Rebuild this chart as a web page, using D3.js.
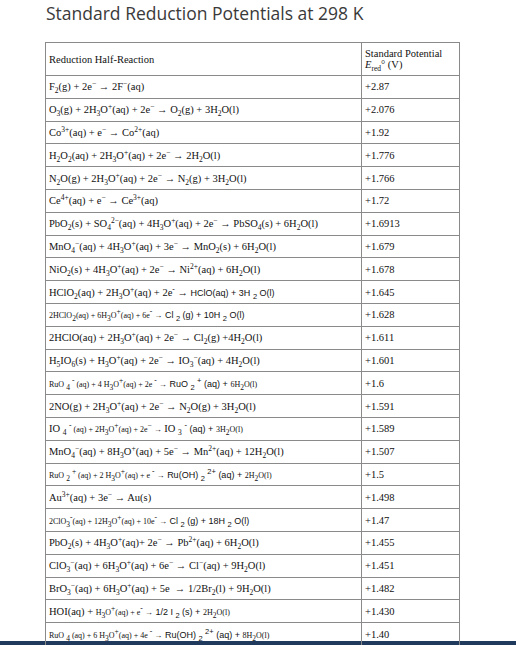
<!DOCTYPE html>
<html><head><meta charset="utf-8">
<script src="https://cdn.jsdelivr.net/npm/d3@7"></script>
<style>
body{margin:0;background:#fff;width:516px;height:645px;overflow:hidden;position:relative}
h1{position:absolute;left:46px;top:0;margin:0;font:400 17.5px "Open Sans",sans-serif;color:#3a3a3a;line-height:26px}
table{position:absolute;left:45px;top:42px;width:414px;border-collapse:collapse;font-family:"Liberation Serif","Times New Roman","DejaVu Serif",serif;font-size:10.5px;color:#111;table-layout:fixed}
td{border:1px solid #8a8a8a;padding:0 3px;height:21.8px;white-space:nowrap;overflow:hidden;vertical-align:middle;font-family:inherit}
tr.hdr td{height:32px}
sub,sup{font-size:7.5px;line-height:0}
.s{font-size:8px}
.a{font-family:"Liberation Sans",Arial,sans-serif;font-size:9px}
#bar{position:absolute;left:0;top:641px;width:516px;height:4px;background:#1f3a5c}
</style></head><body>
<h1>Standard Reduction Potentials at 298 K</h1>
<div id="bar"></div>
<script>
const title = "Standard Reduction Potentials at 298 K";
const headers = ["Standard Potential<br><i>E</i><sub>red</sub>° (V)"];
const firstHeader = "Reduction Half-Reaction";
const reactions = [
 "F<sub>2</sub>(g) + 2e<sup>−</sup> → 2F<sup>−</sup>(aq)",
 "O<sub>3</sub>(g) + 2H<sub>3</sub>O<sup>+</sup>(aq) + 2e<sup>−</sup> → O<sub>2</sub>(g) + 3H<sub>2</sub>O(l)",
 "Co<sup>3+</sup>(aq) + e<sup>−</sup> → Co<sup>2+</sup>(aq)",
 "H<sub>2</sub>O<sub>2</sub>(aq) + 2H<sub>3</sub>O<sup>+</sup>(aq) + 2e<sup>−</sup> → 2H<sub>2</sub>O(l)",
 "N<sub>2</sub>O(g) + 2H<sub>3</sub>O<sup>+</sup>(aq) + 2e<sup>−</sup> → N<sub>2</sub>(g) + 3H<sub>2</sub>O(l)",
 "Ce<sup>4+</sup>(aq) + e<sup>−</sup> → Ce<sup>3+</sup>(aq)",
 "PbO<sub>2</sub>(s) + SO<sub>4</sub><sup>2−</sup>(aq) + 4H<sub>3</sub>O<sup>+</sup>(aq) + 2e<sup>−</sup> → PbSO<sub>4</sub>(s) + 6H<sub>2</sub>O(l)",
 "MnO<sub>4</sub><sup>−</sup>(aq) + 4H<sub>3</sub>O<sup>+</sup>(aq) + 3e<sup>−</sup> → MnO<sub>2</sub>(s) + 6H<sub>2</sub>O(l)",
 "NiO<sub>2</sub>(s) + 4H<sub>3</sub>O<sup>+</sup>(aq) + 2e<sup>−</sup> → Ni<sup>2+</sup>(aq) + 6H<sub>2</sub>O(l)",
 "HClO<sub>2</sub>(aq) + 2H<sub>3</sub>O<sup>+</sup>(aq) + 2e<sup>-</sup> → <span class='a'>HClO(aq) + 3H <sub>2</sub> O(l)</span>",
 "<span class='s'>2HClO<sub>2</sub>(aq) + 6H<sub>3</sub>O<sup>+</sup>(aq) + 6e<sup>-</sup> →</span> <span class='a'>Cl <sub>2</sub> (g) + 10H <sub>2</sub> O(l)</span>",
 "2HClO(aq) + 2H<sub>3</sub>O<sup>+</sup>(aq) + 2e<sup>−</sup> → Cl<sub>2</sub>(g) +4H<sub>2</sub>O(l)",
 "H<sub>5</sub>IO<sub>6</sub>(s) + H<sub>3</sub>O<sup>+</sup>(aq) + 2e<sup>−</sup> → IO<sub>3</sub><sup>−</sup>(aq) + 4H<sub>2</sub>O(l)",
 "<span class='s'>RuO <sub>4</sub> <sup>-</sup> (aq) + 4 H<sub>3</sub>O<sup>+</sup>(aq) + 2e <sup>-</sup> →</span> <span class='a'>RuO <sub>2</sub> <sup>+</sup> (aq) +</span> <span class='s'>6H<sub>2</sub>O(l)</span>",
 "2NO(g) + 2H<sub>3</sub>O<sup>+</sup>(aq) + 2e<sup>−</sup> → N<sub>2</sub>O(g) + 3H<sub>2</sub>O(l)",
 "IO <sub>4</sub> <span class='s'><sup>-</sup> (aq) + 2H<sub>3</sub>O<sup>+</sup>(aq) + 2e<sup>−</sup> →</span> IO <sub>3</sub> <sup>-</sup> <span class='a'>(aq) +</span> <span class='s'>3H<sub>2</sub>O(l)</span>",
 "MnO<sub>4</sub><sup>−</sup>(aq) + 8H<sub>3</sub>O<sup>+</sup>(aq) + 5e<sup>−</sup> → Mn<sup>2+</sup>(aq) + 12H<sub>2</sub>O(l)",
 "<span class='s'>RuO <sub>2</sub> <sup>+</sup> (aq) + 2 H<sub>3</sub>O<sup>+</sup>(aq) + e <sup>-</sup> →</span> <span class='a'>Ru(OH) <sub>2</sub> <sup>2+</sup> (aq) +</span> <span class='s'>2H<sub>2</sub>O(l)</span>",
 "Au<sup>3+</sup>(aq) + 3e<sup>−</sup> → Au(s)",
 "<span class='s'>2ClO<sub>3</sub><sup>-</sup>(aq) + 12H<sub>3</sub>O<sup>+</sup>(aq) + 10e<sup>-</sup> →</span> <span class='a'>Cl <sub>2</sub> (g) + 18H <sub>2</sub> O(l)</span>",
 "PbO<sub>2</sub>(s) + 4H<sub>3</sub>O<sup>+</sup>(aq)+ 2e<sup>−</sup> → Pb<sup>2+</sup>(aq) + 6H<sub>2</sub>O(l)",
 "ClO<sub>3</sub><sup>−</sup>(aq) + 6H<sub>3</sub>O<sup>+</sup>(aq) + 6e<sup>−</sup> → Cl<sup>−</sup>(aq) + 9H<sub>2</sub>O(l)",
 "BrO<sub>3</sub><sup>−</sup>(aq) + 6H<sub>3</sub>O<sup>+</sup>(aq) + 5e &nbsp;→ 1/2Br<sub>2</sub>(l) + 9H<sub>2</sub>O(l)",
 "HOI(aq) + <span class='s'>H<sub>3</sub>O<sup>+</sup>(aq) + e<sup>-</sup> →</span> <span class='a'>1/2 I <sub>2</sub> (s) +</span> <span class='s'>2H<sub>2</sub>O(l)</span>",
 "<span class='s'>RuO <sub>4</sub> (aq) + 6 H<sub>3</sub>O<sup>+</sup>(aq) + 4e <sup>-</sup> →</span> <span class='a'>Ru(OH) <sub>2</sub> <sup>2+</sup> (aq) +</span> <span class='s'>8H<sub>2</sub>O(l)</span>"
];
const potentials = ["+2.87","+2.076","+1.92","+1.776","+1.766","+1.72","+1.6913","+1.679","+1.678","+1.645","+1.628","+1.611","+1.601","+1.6","+1.591","+1.589","+1.507","+1.5","+1.498","+1.47","+1.455","+1.451","+1.482","+1.430","+1.40"];

const table = d3.select("body").append("table");
const cg = table.append("colgroup");
cg.append("col").style("width","316px");
cg.append("col").style("width","98px");
table.append("tr").attr("class","hdr").selectAll("td").data([firstHeader, ...headers]).join("td").html(d=>d);
table.selectAll("tr.row").data(d3.zip(reactions, potentials)).join("tr").attr("class","row")
  .selectAll("td").data(d=>d).join("td").html(d=>d);
</script>
</body></html>
